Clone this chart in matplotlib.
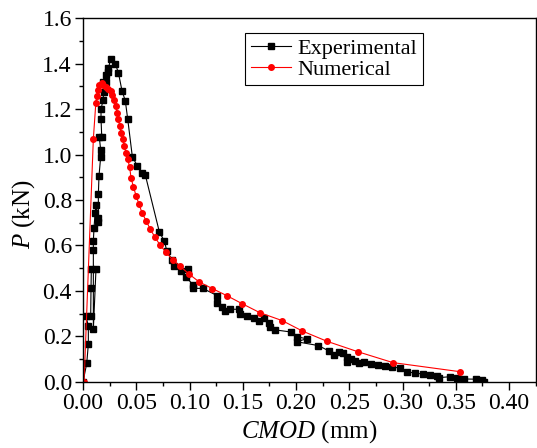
import matplotlib
matplotlib.use("Agg")
import matplotlib.pyplot as plt
from matplotlib.ticker import MultipleLocator, FormatStrFormatter

plt.rcParams['font.family'] = 'Liberation Serif'
plt.rcParams['mathtext.fontset'] = 'custom'
plt.rcParams['mathtext.rm'] = 'Liberation Serif'
plt.rcParams['mathtext.it'] = 'Liberation Serif:italic'

# Experimental curve (CMOD in mm, P in kN)
exp_x = [0.0, 0.0035, 0.005, 0.005, 0.0028, 0.0072, 0.0075, 0.0078, 0.0122, 0.0097,
         0.0097, 0.0097, 0.0103, 0.0113, 0.0122, 0.0144, 0.0144, 0.0144, 0.015, 0.0166,
         0.0166, 0.0153, 0.0176, 0.0169, 0.0169, 0.0188, 0.0194, 0.019, 0.0213, 0.0216,
         0.0238, 0.0238, 0.026, 0.0304, 0.0332, 0.0366, 0.0397, 0.042, 0.0463, 0.051,
         0.0557, 0.0585, 0.0717, 0.0764, 0.0786, 0.0836, 0.0858, 0.0917, 0.0989, 0.0967,
         0.1036, 0.1036, 0.1124, 0.126, 0.126, 0.1305, 0.1333, 0.138, 0.1468, 0.1474,
         0.1537, 0.1606, 0.1656, 0.17, 0.175, 0.1756, 0.1806, 0.195, 0.2006, 0.21,
         0.2006, 0.221, 0.2306, 0.236, 0.2407, 0.2439, 0.2477, 0.2477, 0.2517, 0.2554,
         0.2595, 0.2639, 0.2702, 0.2773, 0.2836, 0.2899, 0.2977, 0.3046, 0.3118, 0.3196,
         0.3258, 0.3321, 0.3346, 0.3446, 0.3509, 0.3578, 0.369, 0.3744, 0.3765]
exp_p = [0.0, 0.081, 0.166, 0.245, 0.289, 0.289, 0.411, 0.495, 0.498, 0.231,
         0.58, 0.62, 0.675, 0.741, 0.778, 0.704, 0.72, 0.826, 0.906, 0.991,
         1.02, 1.076, 1.076, 1.157, 1.2, 1.24, 1.274, 1.321, 1.321, 1.349,
         1.364, 1.38, 1.421, 1.399, 1.361, 1.281, 1.237, 1.155, 0.991, 0.95,
         0.92, 0.91, 0.659, 0.619, 0.577, 0.536, 0.511, 0.489, 0.496, 0.46,
         0.426, 0.411, 0.411, 0.379, 0.348, 0.328, 0.31, 0.319, 0.319, 0.298,
         0.289, 0.28, 0.269, 0.279, 0.257, 0.24, 0.228, 0.219, 0.198, 0.189,
         0.176, 0.159, 0.136, 0.118, 0.132, 0.125, 0.107, 0.085, 0.1, 0.092,
         0.081, 0.087, 0.077, 0.072, 0.07, 0.066, 0.059, 0.044, 0.037, 0.034,
         0.031, 0.026, 0.018, 0.022, 0.016, 0.012, 0.011, 0.007, 0.0]

# Numerical curve
num_x = [0.001, 0.0097, 0.012, 0.0129, 0.0138, 0.0153, 0.0176, 0.019, 0.0213, 0.0238,
         0.026, 0.0275, 0.0291, 0.0307, 0.032, 0.0332, 0.0345, 0.0357, 0.0373, 0.0388,
         0.0404, 0.042, 0.0438, 0.0451, 0.0473, 0.0498, 0.0526, 0.0554, 0.0592, 0.0629,
         0.0673, 0.0723, 0.0779, 0.0842, 0.0911, 0.0995, 0.1092, 0.1214, 0.135, 0.1496,
         0.166, 0.187, 0.206, 0.229, 0.258, 0.291, 0.354]
num_p = [0.0, 1.07, 1.226, 1.258, 1.284, 1.306, 1.314, 1.306, 1.299, 1.287,
         1.281, 1.262, 1.24, 1.214, 1.184, 1.155, 1.126, 1.096, 1.067, 1.038,
         1.006, 0.979, 0.944, 0.897, 0.859, 0.819, 0.781, 0.744, 0.709, 0.674,
         0.638, 0.602, 0.57, 0.536, 0.509, 0.474, 0.439, 0.41, 0.379, 0.343,
         0.304, 0.269, 0.223, 0.178, 0.132, 0.084, 0.044]

fig = plt.figure(figsize=(5.37, 4.48), dpi=100)
ax = fig.add_axes([0.1546, 0.148, 0.843, 0.811])

ax.plot(exp_x, exp_p, color='black', lw=0.8, marker='s', ms=4, label='Experimental')
ax.plot(num_x, num_p, color='red', lw=0.8, marker='o', ms=4, label='Numerical')

ax.set_xlim(0, 0.425)
ax.set_ylim(0, 1.6)
ax.xaxis.set_major_locator(MultipleLocator(0.05))
ax.xaxis.set_minor_locator(MultipleLocator(0.025))
ax.yaxis.set_major_locator(MultipleLocator(0.2))
ax.yaxis.set_minor_locator(MultipleLocator(0.1))
ax.xaxis.set_major_formatter(FormatStrFormatter('%.2f'))
ax.yaxis.set_major_formatter(FormatStrFormatter('%.1f'))
ax.tick_params(which='both', direction='out', labelsize=17, top=False, right=False, pad=2)
ax.tick_params(which='major', length=6, width=1)
ax.tick_params(which='minor', length=3, width=1)
for s in ax.spines.values():
    s.set_linewidth(1)

ax.set_xlabel(r'$\mathit{CMOD}$ (mm)', fontsize=18, labelpad=3)
ax.set_ylabel(r'$\mathit{P}$ (kN)', fontsize=18)
ax.yaxis.set_label_coords(-0.102, 0.46)

leg = ax.legend(loc='upper left', bbox_to_anchor=(0.358, 0.96), fontsize=16,
                fancybox=False, framealpha=1, edgecolor='black', numpoints=1,
                handlelength=1.8, handletextpad=0.3, borderpad=0.25,
                labelspacing=0.0, borderaxespad=0)
leg.get_frame().set_linewidth(0.8)

fig.savefig('out.png', dpi=100)
